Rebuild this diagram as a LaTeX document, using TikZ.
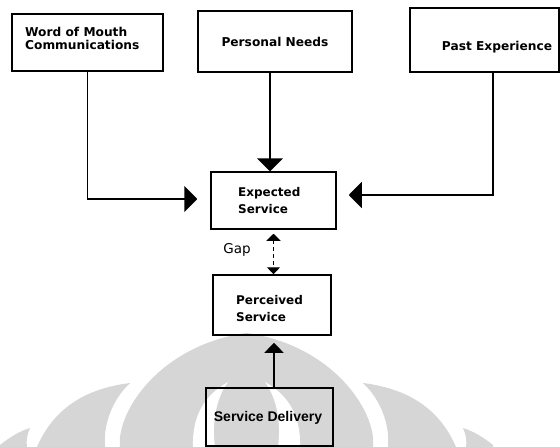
\documentclass[tikz,border=0pt]{standalone}
\usepackage{fontspec}
\setmainfont{DejaVu Sans}
\newfontfamily\arialfont{Liberation Sans}
\usetikzlibrary{arrows.meta,calc}
\definecolor{wm}{gray}{0.84}
\begin{document}
\begin{tikzpicture}[x=1pt,y=-1pt,
  box/.style={draw=black, line width=1.5pt, inner sep=0pt},
  lbl/.style={font=\fontsize{12.2}{13}\selectfont\bfseries, inner sep=0pt, text=black},
  lbltwo/.style={font=\fontsize{12}{17}\selectfont\bfseries, inner sep=0pt, text=black},
  link/.style={draw=black, line width=1.6pt},
  bigtip/.style={-{Triangle[length=13pt,width=26pt]}},
  gaplink/.style={draw=black, line width=1.3pt, dash pattern=on 4pt off 3pt,
     {Triangle[length=7pt,width=14pt]}-{Triangle[length=7pt,width=13pt]}},
  uptip/.style={-{Triangle[length=10pt,width=19pt]}}]
\useasboundingbox (0,0) rectangle (560,447);
% watermark
\fill[wm] (120,447) .. controls (116,412) and (160,345) .. (246.5,333)
  .. controls (333,345) and (377,412) .. (373,447) -- cycle;
\fill[white] (193,447) .. controls (192,415) and (205,395) .. (228,382)
  .. controls (215,400) and (212,425) .. (215,447) -- cycle;
\fill[white] (300,447) .. controls (301,415) and (288,395) .. (265,382)
  .. controls (278,400) and (281,425) .. (278,447) -- cycle;
\fill[wm] (37,447) .. controls (55,405) and (90,388) .. (130,383)
  .. controls (112,400) and (103,425) .. (105,447) -- cycle;
\fill[wm] (456,447) .. controls (438,405) and (403,388) .. (363,383)
  .. controls (381,400) and (390,425) .. (388,447) -- cycle;
\fill[wm] (0,445) .. controls (10,437) and (20,431) .. (30,428)
  .. controls (27,435) and (26,441) .. (27,447) -- (0,447) -- cycle;
\fill[wm] (493,445) .. controls (483,437) and (473,431) .. (463,428)
  .. controls (466,435) and (467,441) .. (466,447) -- (493,447) -- cycle;
% boxes
\node[box, minimum width=151pt, minimum height=57pt] (wom) at (87.5,42.5) {};
\node[box, minimum width=154pt, minimum height=61pt] (pn) at (275,41.5) {};
\node[box, minimum width=149pt, minimum height=64pt] (pe) at (484.5,40) {};
\node[box, minimum width=125pt, minimum height=57pt] (es) at (273.5,200.5) {};
\node[box, minimum width=118pt, minimum height=60pt] (ps) at (272,305) {};
\node[box, minimum width=127pt, minimum height=58pt] (sd) at (269.5,417) {};
% texts
\node[lbl, anchor=west, align=left] (womt) at (25,38.5) {Word of Mouth\\Communications};
\node[lbl] (pnt) at (275,42) {Personal Needs};
\node[lbl] (pet) at (497,47) {Past Experience};
\node[lbltwo, anchor=west, align=left] (est) at (238,200.5) {Expected\\Service};
\node[lbltwo, anchor=west, align=left] (pst) at (236,308.5) {Perceived\\Service};
\node[font=\arialfont\fontsize{14}{16}\selectfont\bfseries, inner sep=0pt] (sdt) at (268,418) {Service Delivery};
\node[font=\fontsize{13.5}{16}\selectfont, inner sep=0pt] (gapt) at (237,250) {Gap};
% connectors
\coordinate (esl) at ($(es.west)+(-13,-1.5)$);
\coordinate (esr) at ($(es.east)+(12,-5.5)$);
\coordinate (est2) at ($(es.north)+(-3.5,0)$);
\coordinate (pesrc) at ($(pe.south)+(8.5,0)$);
\draw[link, bigtip] (wom.south) |- (esl);
\draw[link, bigtip] (est2 |- pn.south) -- (est2);
\draw[link, bigtip] (pesrc) |- (esr);
\draw[gaplink, shorten <=4pt] (es.south) -- (es.south |- ps.north);
\draw[link, line width=1.3pt, uptip, shorten >=7pt] ($(sd.north)+(4.5,0)$) -- ($(ps.south)+(2,0)$);
\end{tikzpicture}
\end{document}
